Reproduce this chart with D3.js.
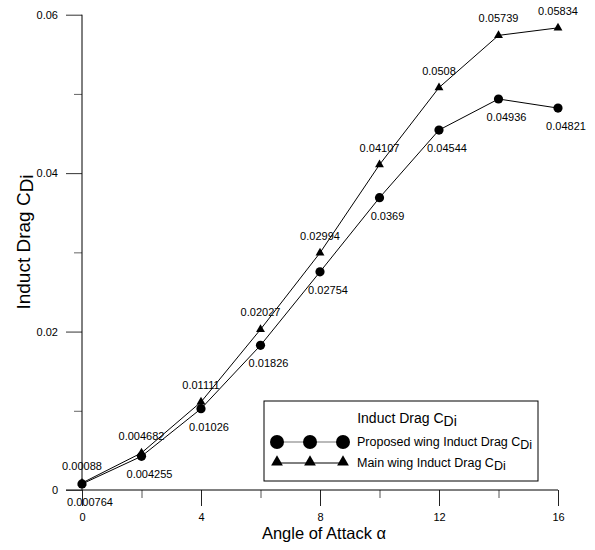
<!DOCTYPE html>
<html>
<head>
<meta charset="utf-8">
<script src="https://cdn.jsdelivr.net/npm/d3@7/dist/d3.min.js"></script>
<style>
  html, body { margin: 0; padding: 0; background: #fff; }
  svg { display: block; font-family: Arial, "Liberation Sans", sans-serif; }
</style>
</head>
<body>
<svg id="chart" width="595" height="550"></svg>
<script>
// Angle of attack (degrees)
const angles = [0, 2, 4, 6, 8, 10, 12, 14, 16];
// Induced drag coefficient, proposed wing
const proposedCdi = [0.000764, 0.004255, 0.01026, 0.01826, 0.02754, 0.0369, 0.04544, 0.04936, 0.04821];
const proposedLabels = ["0.000764", "0.004255", "0.01026", "0.01826", "0.02754", "0.0369", "0.04544", "0.04936", "0.04821"];
// Induced drag coefficient, main wing
const mainCdi = [0.00088, 0.004682, 0.01111, 0.02027, 0.02994, 0.04107, 0.0508, 0.05739, 0.05834];
const mainLabels = ["0.00088", "0.004682", "0.01111", "0.02027", "0.02994", "0.04107", "0.0508", "0.05739", "0.05834"];
// Axis ticks
const xMajorTicks = [0, 4, 8, 12, 16];
const xMinorTicks = [2, 6, 10, 14];
const yMajorTicks = [0, 0.02, 0.04, 0.06];
const yMinorTicks = [0.01, 0.03, 0.05];
const yTickLabels = ["0", "0.02", "0.04", "0.06"];

const svg = d3.select("#chart");
const plotLeft = 82, plotRight = 558, plotTop = 14.7, plotBottom = 490;

const x = d3.scaleLinear().domain([0, 16]).range([plotLeft, plotRight]);
const y = d3.scaleLinear().domain([0, 0.06]).range([plotBottom, plotTop]);

// X axis: major ticks downward with labels, minor ticks shorter
const xAxis = svg.append("g").attr("transform", `translate(0,${plotBottom})`)
  .call(d3.axisBottom(x).tickValues(xMajorTicks).tickSize(16).tickSizeOuter(0).tickPadding(7).tickFormat(d3.format("d")));
xAxis.select(".domain").remove();
xAxis.selectAll("text").attr("font-size", 11).attr("font-family", "Arial, 'Liberation Sans', sans-serif").attr("fill", "#000");
xAxis.selectAll("line").attr("stroke", "#222");
const xMinor = svg.append("g").attr("transform", `translate(0,${plotBottom})`)
  .call(d3.axisBottom(x).tickValues(xMinorTicks).tickSize(8).tickFormat(""));
xMinor.select(".domain").remove();
xMinor.selectAll("line").attr("stroke", "#555");
svg.append("line").attr("x1", 66).attr("x2", plotRight).attr("y1", plotBottom).attr("y2", plotBottom).attr("stroke", "#000");

// Y axis: major ticks leftward with labels, minor ticks shorter
const yAxis = svg.append("g").attr("transform", `translate(${plotLeft},0)`)
  .call(d3.axisLeft(y).tickValues(yMajorTicks).tickSize(16).tickSizeOuter(0).tickPadding(8)
    .tickFormat((d, i) => yTickLabels[i]));
yAxis.select(".domain").remove();
yAxis.selectAll("text").attr("font-size", 11).attr("font-family", "Arial, 'Liberation Sans', sans-serif").attr("fill", "#000");
yAxis.selectAll("line").attr("stroke", "#333");
const yMinor = svg.append("g").attr("transform", `translate(${plotLeft},0)`)
  .call(d3.axisLeft(y).tickValues(yMinorTicks).tickSize(8).tickFormat(""));
yMinor.select(".domain").remove();
yMinor.selectAll("line").attr("stroke", "#666");
svg.append("line").attr("x1", plotLeft).attr("x2", plotLeft).attr("y1", plotTop).attr("y2", plotBottom).attr("stroke", "#000");

// Series lines
const line = d3.line().x(d => x(d[0])).y(d => y(d[1]));
const proposedPts = angles.map((a, i) => [a, proposedCdi[i]]);
const mainPts = angles.map((a, i) => [a, mainCdi[i]]);

svg.append("path").datum(mainPts).attr("d", line).attr("fill", "none").attr("stroke", "#000").attr("stroke-width", 1);
svg.append("path").datum(proposedPts).attr("d", line).attr("fill", "none").attr("stroke", "#000").attr("stroke-width", 1);

const triangle = d3.symbol().type(d3.symbolTriangle).size(34);

svg.append("g").selectAll("path").data(mainPts).join("path")
  .attr("d", triangle).attr("transform", d => `translate(${x(d[0])},${y(d[1])})`).attr("fill", "#000");
svg.append("g").selectAll("circle").data(proposedPts).join("circle")
  .attr("cx", d => x(d[0])).attr("cy", d => y(d[1])).attr("r", 4.6).attr("fill", "#000");

// Value labels: main wing above, proposed wing below-right
svg.append("g").selectAll("text").data(mainPts).join("text")
  .attr("x", d => x(d[0])).attr("y", d => y(d[1]) - 13)
  .attr("text-anchor", "middle").attr("font-size", 11).attr("fill", "#000")
  .text((d, i) => mainLabels[i]);
svg.append("g").selectAll("text").data(proposedPts).join("text")
  .attr("x", d => x(d[0]) + 8).attr("y", d => y(d[1]) + 22)
  .attr("text-anchor", "middle").attr("font-size", 11).attr("fill", "#000")
  .text((d, i) => proposedLabels[i]);

// Axis titles
svg.append("text").attr("x", (plotLeft + plotRight) / 2 + 4).attr("y", 539).attr("text-anchor", "middle")
  .attr("font-size", 16.5).attr("fill", "#000").text("Angle of Attack α");

const yTitle = svg.append("text").attr("transform", `translate(30,242) rotate(-90)`)
  .attr("text-anchor", "middle").attr("font-size", 19).attr("fill", "#000");
yTitle.append("tspan").text("Induct Drag C");
yTitle.append("tspan").attr("dy", 3).text("Di");

// Legend
const lg = svg.append("g");
lg.append("rect").attr("x", 264).attr("y", 401).attr("width", 274).attr("height", 80)
  .attr("fill", "#fff").attr("stroke", "#000").attr("stroke-width", 1);
const lgTitle = lg.append("text").attr("x", 407).attr("y", 423).attr("text-anchor", "middle")
  .attr("font-size", 14).attr("fill", "#000");
lgTitle.append("tspan").text("Induct Drag C");
lgTitle.append("tspan").attr("dy", 3).text("Di");

const lgX = [277, 310, 343];
lg.append("line").attr("x1", lgX[0]).attr("x2", lgX[2]).attr("y1", 442).attr("y2", 442).attr("stroke", "#777").attr("stroke-width", 1.2);
lgX.forEach(px => lg.append("circle").attr("cx", px).attr("cy", 442).attr("r", 7).attr("fill", "#000"));
lg.append("line").attr("x1", lgX[0]).attr("x2", lgX[2]).attr("y1", 463).attr("y2", 463).attr("stroke", "#000");
const lgTri = d3.symbol().type(d3.symbolTriangle).size(60);
lgX.forEach(px => lg.append("path").attr("d", lgTri).attr("transform", `translate(${px},${462})`).attr("fill", "#000"));

const t1 = lg.append("text").attr("x", 357).attr("y", 446).attr("font-size", 12.5).attr("fill", "#000");
t1.append("tspan").text("Proposed wing Induct Drag C");
t1.append("tspan").attr("dy", 3).text("Di");
const t2 = lg.append("text").attr("x", 357).attr("y", 467).attr("font-size", 12.5).attr("fill", "#000");
t2.append("tspan").text("Main wing Induct Drag C");
t2.append("tspan").attr("dy", 3).text("Di");
</script>
</body>
</html>
